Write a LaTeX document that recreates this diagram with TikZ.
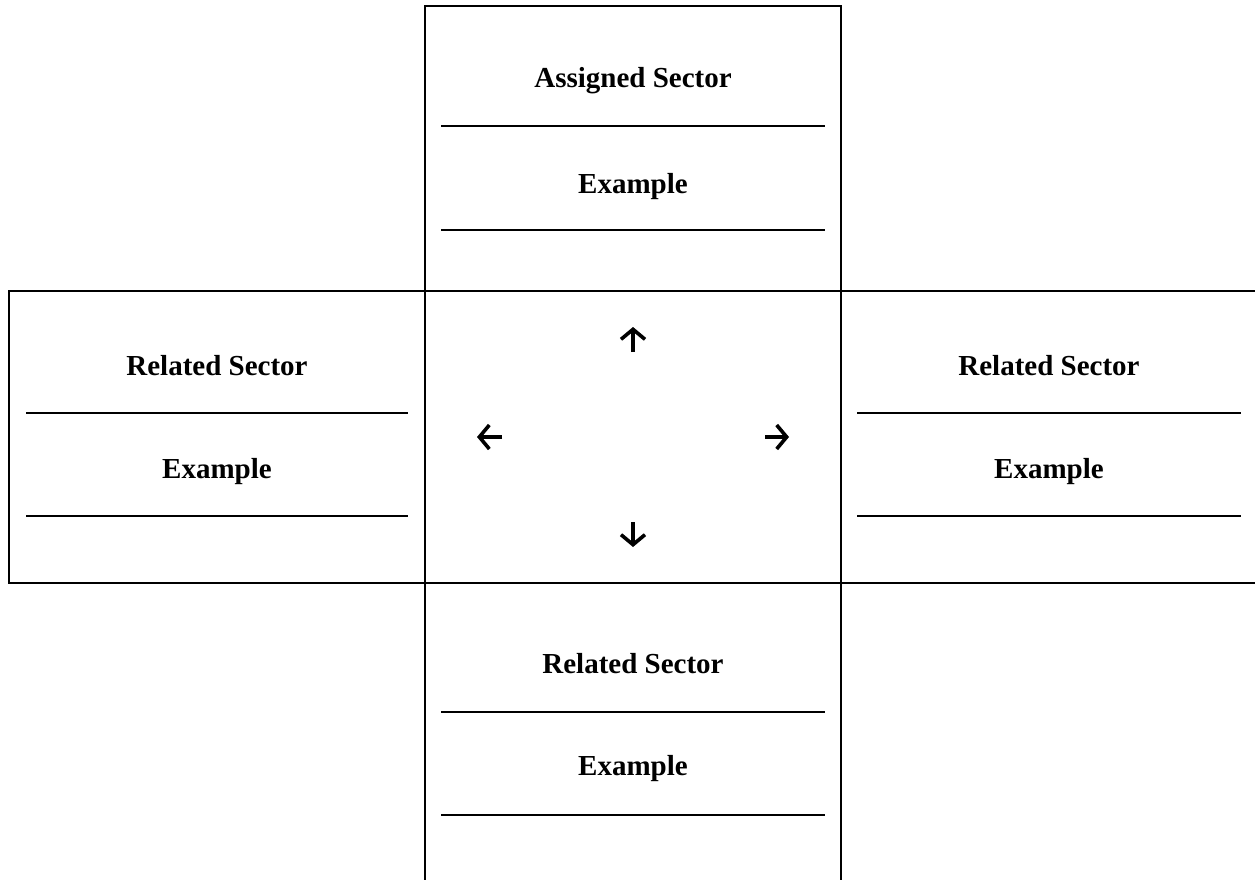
\documentclass[tikz,border=0pt]{standalone}
\usepackage{fontspec}
\setmainfont{Liberation Serif}
\usetikzlibrary{positioning}
\usetikzlibrary{calc}
\usetikzlibrary{arrows.meta}

\tikzset{
  panel/.style={draw=black, line width=2.8pt},
  label/.style={font=\fontsize{29}{34}\selectfont\bfseries, inner sep=0pt, anchor=base},
  blank/.style={draw=black, line width=1.3pt},
  dirarrow/.style={draw=black, line width=3.6pt, -{Straight Barb[length=10pt,width=24pt]}}
}

\begin{document}
\begin{tikzpicture}[x=1pt,y=-1pt]
 \useasboundingbox (0,0) rectangle (1255,880);
 \clip (0,0) rectangle (1255,880);

 % the five panels
 \draw [panel] (425,6) rectangle (841,291);
 \draw [panel] (9,291) rectangle (425,583);
 \draw [panel] (425,291) rectangle (841,583);
 \draw [panel] (841,291) rectangle (1270,583);
 \draw [panel] (425,583) rectangle (841,900);

 \node (assigned) at (633,88) [label] {Assigned Sector};
 \node (assignedex) [below=105pt of assigned.base, label] {Example};

 \node (westsec) at (217,375) [label] {Related Sector};
 \node (westex) [below=103pt of westsec.base, label] {Example};

 \node (eastsec) at (1049,375) [label] {Related Sector};
 \node (eastex) [below=103pt of eastsec.base, label] {Example};

 \node (southsec) at (633,673) [label] {Related Sector};
 \node (southex) [below=102pt of southsec.base, label] {Example};

 % blanks under each text
 \draw [blank] ($ (assigned.base) + (-192,38) $) -- ++(384,0);
 \draw [blank] ($ (assignedex.base) + (-192,37) $) -- ++(384,0);
 \draw [blank] ($ (westsec.base) + (-191,38) $) -- ++(382,0);
 \draw [blank] ($ (westex.base) + (-191,38) $) -- ++(382,0);
 \draw [blank] ($ (eastsec.base) + (-192,38) $) -- ++(384,0);
 \draw [blank] ($ (eastex.base) + (-192,38) $) -- ++(384,0);
 \draw [blank] ($ (southsec.base) + (-192,39) $) -- ++(384,0);
 \draw [blank] ($ (southex.base) + (-192,40) $) -- ++(384,0);

 % arrows in the middle panel
 \coordinate (hub) at (633,437);
 \coordinate (upfrom) at ($ (hub) + (0,-85) $);
 \coordinate (upto) at ($ (hub) + (0,-110) $);
 \coordinate (downfrom) at ($ (hub) + (0,85) $);
 \coordinate (downto) at ($ (hub) + (0,110) $);
 \coordinate (leftfrom) at ($ (hub) + (-131,0) $);
 \coordinate (leftto) at ($ (hub) + (-156,0) $);
 \coordinate (rightfrom) at ($ (hub) + (132,0) $);
 \coordinate (rightto) at ($ (hub) + (156,0) $);

 \draw [dirarrow] (upfrom) -- (upto);
 \draw [dirarrow] (downfrom) -- (downto);
 \draw [dirarrow] (leftfrom) -- (leftto);
 \draw [dirarrow] (rightfrom) -- (rightto);
\end{tikzpicture}
\end{document}
